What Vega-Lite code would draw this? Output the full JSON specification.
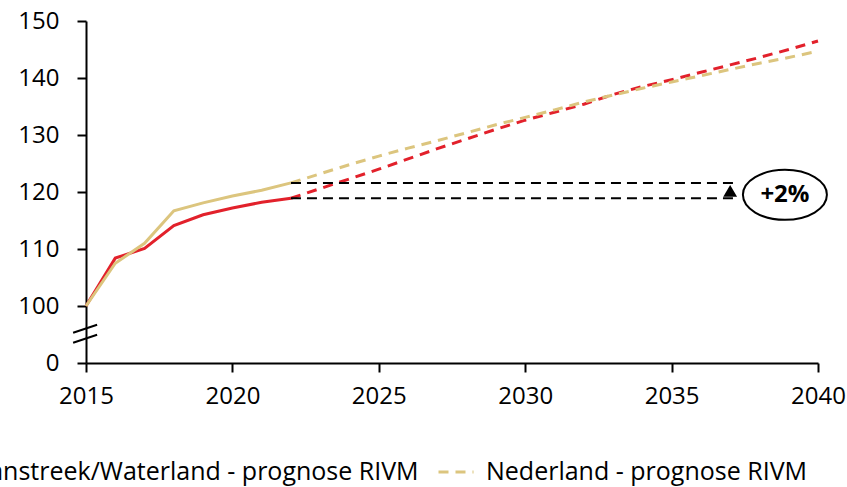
{
  "$schema": "https://vega.github.io/schema/vega-lite/v6.json",
  "width": 732,
  "height": 342,
  "autosize": {"type": "none"},
  "padding": {"left": 86, "top": 21, "right": 29, "bottom": 124},
  "background": "white",
  "config": {
    "view": {"stroke": null},
    "font": "Open Sans",
    "axis": {"labelFont": "Open Sans", "labelFontSize": 24, "labelColor": "#000000", "domainColor": "#000000", "tickColor": "#000000", "domainWidth": 2, "tickWidth": 2, "tickSize": 9, "grid": false, "title": null}
  },
  "datasets": {
    "reeks": [
      {"jaar": 2015, "index": 100, "reeks": "Zaanstreek/Waterland"},
      {"jaar": 2016, "index": 108.4, "reeks": "Zaanstreek/Waterland"},
      {"jaar": 2017, "index": 110.1, "reeks": "Zaanstreek/Waterland"},
      {"jaar": 2018, "index": 114.1, "reeks": "Zaanstreek/Waterland"},
      {"jaar": 2019, "index": 116.0, "reeks": "Zaanstreek/Waterland"},
      {"jaar": 2020, "index": 117.2, "reeks": "Zaanstreek/Waterland"},
      {"jaar": 2021, "index": 118.2, "reeks": "Zaanstreek/Waterland"},
      {"jaar": 2022, "index": 118.9, "reeks": "Zaanstreek/Waterland"},
      {"jaar": 2015, "index": 100, "reeks": "Nederland"},
      {"jaar": 2016, "index": 107.5, "reeks": "Nederland"},
      {"jaar": 2017, "index": 111.0, "reeks": "Nederland"},
      {"jaar": 2018, "index": 116.7, "reeks": "Nederland"},
      {"jaar": 2019, "index": 118.1, "reeks": "Nederland"},
      {"jaar": 2020, "index": 119.3, "reeks": "Nederland"},
      {"jaar": 2021, "index": 120.3, "reeks": "Nederland"},
      {"jaar": 2022, "index": 121.6, "reeks": "Nederland"},
      {"jaar": 2022, "index": 118.9, "reeks": "Zaanstreek/Waterland - prognose RIVM"},
      {"jaar": 2023, "index": 120.6, "reeks": "Zaanstreek/Waterland - prognose RIVM"},
      {"jaar": 2024, "index": 122.3, "reeks": "Zaanstreek/Waterland - prognose RIVM"},
      {"jaar": 2025, "index": 124.0, "reeks": "Zaanstreek/Waterland - prognose RIVM"},
      {"jaar": 2026, "index": 125.8, "reeks": "Zaanstreek/Waterland - prognose RIVM"},
      {"jaar": 2027, "index": 127.6, "reeks": "Zaanstreek/Waterland - prognose RIVM"},
      {"jaar": 2028, "index": 129.3, "reeks": "Zaanstreek/Waterland - prognose RIVM"},
      {"jaar": 2029, "index": 131.0, "reeks": "Zaanstreek/Waterland - prognose RIVM"},
      {"jaar": 2030, "index": 132.6, "reeks": "Zaanstreek/Waterland - prognose RIVM"},
      {"jaar": 2031, "index": 134.0, "reeks": "Zaanstreek/Waterland - prognose RIVM"},
      {"jaar": 2032, "index": 135.4, "reeks": "Zaanstreek/Waterland - prognose RIVM"},
      {"jaar": 2033, "index": 137.1, "reeks": "Zaanstreek/Waterland - prognose RIVM"},
      {"jaar": 2034, "index": 138.5, "reeks": "Zaanstreek/Waterland - prognose RIVM"},
      {"jaar": 2035, "index": 139.7, "reeks": "Zaanstreek/Waterland - prognose RIVM"},
      {"jaar": 2036, "index": 141.0, "reeks": "Zaanstreek/Waterland - prognose RIVM"},
      {"jaar": 2037, "index": 142.3, "reeks": "Zaanstreek/Waterland - prognose RIVM"},
      {"jaar": 2038, "index": 143.6, "reeks": "Zaanstreek/Waterland - prognose RIVM"},
      {"jaar": 2039, "index": 145.0, "reeks": "Zaanstreek/Waterland - prognose RIVM"},
      {"jaar": 2040, "index": 146.5, "reeks": "Zaanstreek/Waterland - prognose RIVM"},
      {"jaar": 2022, "index": 121.6, "reeks": "Nederland - prognose RIVM"},
      {"jaar": 2023, "index": 123.2, "reeks": "Nederland - prognose RIVM"},
      {"jaar": 2024, "index": 124.8, "reeks": "Nederland - prognose RIVM"},
      {"jaar": 2025, "index": 126.3, "reeks": "Nederland - prognose RIVM"},
      {"jaar": 2026, "index": 127.7, "reeks": "Nederland - prognose RIVM"},
      {"jaar": 2027, "index": 129.0, "reeks": "Nederland - prognose RIVM"},
      {"jaar": 2028, "index": 130.4, "reeks": "Nederland - prognose RIVM"},
      {"jaar": 2029, "index": 131.8, "reeks": "Nederland - prognose RIVM"},
      {"jaar": 2030, "index": 133.1, "reeks": "Nederland - prognose RIVM"},
      {"jaar": 2031, "index": 134.4, "reeks": "Nederland - prognose RIVM"},
      {"jaar": 2032, "index": 135.8, "reeks": "Nederland - prognose RIVM"},
      {"jaar": 2033, "index": 137.0, "reeks": "Nederland - prognose RIVM"},
      {"jaar": 2034, "index": 138.2, "reeks": "Nederland - prognose RIVM"},
      {"jaar": 2035, "index": 139.3, "reeks": "Nederland - prognose RIVM"},
      {"jaar": 2036, "index": 140.4, "reeks": "Nederland - prognose RIVM"},
      {"jaar": 2037, "index": 141.5, "reeks": "Nederland - prognose RIVM"},
      {"jaar": 2038, "index": 142.6, "reeks": "Nederland - prognose RIVM"},
      {"jaar": 2039, "index": 143.6, "reeks": "Nederland - prognose RIVM"},
      {"jaar": 2040, "index": 144.7, "reeks": "Nederland - prognose RIVM"}
    ],
    "niveaus": [
      {"van": 2022, "tot": 2037.25, "niveau": 121.6},
      {"van": 2022, "tot": 2037.25, "niveau": 118.9}
    ],
    "breuk": [
      {"x1": 2014.56, "x2": 2015.38, "y1": 95.3, "y2": 96.7},
      {"x1": 2014.56, "x2": 2015.38, "y1": 93.55, "y2": 94.95}
    ],
    "pijl": [{"jaar": 2037.0, "index": 120.2}],
    "label": [{"jaar": 2038.87, "index": 119.5, "tekst": "+2%"}]
  },
  "layer": [
    {
      "data": {"name": "breuk"},
      "mark": {"type": "rule", "color": "#000000", "strokeWidth": 2},
      "encoding": {
        "x": {"field": "x1", "type": "quantitative", "scale": {"domain": [2015, 2040], "nice": false}, "axis": {"values": [2015, 2020, 2025, 2030, 2035, 2040], "format": "d", "labelPadding": 12, "labelFlush": false}},
        "x2": {"field": "x2"},
        "y": {"field": "y1", "type": "quantitative", "scale": {"domain": [90, 150], "nice": false, "zero": false}, "axis": {"values": [90, 100, 110, 120, 130, 140, 150], "labelExpr": "datum.value == 90 ? '0' : datum.label", "labelPadding": 18}},
        "y2": {"field": "y2"}
      }
    },
    {
      "data": {"name": "reeks"},
      "transform": [{"filter": "datum.reeks == 'Zaanstreek/Waterland'"}],
      "mark": {"type": "line", "color": "#E2212B", "strokeWidth": 3},
      "encoding": {
        "x": {"field": "jaar", "type": "quantitative"},
        "y": {"field": "index", "type": "quantitative"}
      }
    },
    {
      "data": {"name": "reeks"},
      "transform": [{"filter": "datum.reeks == 'Nederland'"}],
      "mark": {"type": "line", "color": "#DCC57E", "strokeWidth": 3},
      "encoding": {
        "x": {"field": "jaar", "type": "quantitative"},
        "y": {"field": "index", "type": "quantitative"}
      }
    },
    {
      "data": {"name": "reeks"},
      "transform": [{"filter": "indexof(datum.reeks, 'prognose') >= 0"}],
      "mark": {"type": "line", "strokeWidth": 3},
      "encoding": {
        "x": {"field": "jaar", "type": "quantitative"},
        "y": {"field": "index", "type": "quantitative"},
        "color": {"field": "reeks", "type": "nominal", "scale": {"domain": ["Zaanstreek/Waterland - prognose RIVM", "Nederland - prognose RIVM"], "range": ["#E2212B", "#DCC57E"]},
          "legend": {"orient": "none", "direction": "horizontal", "legendX": -174, "legendY": 432, "title": null, "labelFont": "Open Sans", "labelFontSize": 25, "labelColor": "#000000", "symbolType": "stroke", "symbolSize": 1225, "symbolStrokeWidth": 3, "labelOffset": 11, "columnPadding": 13, "labelLimit": 0}},
        "strokeDash": {"field": "reeks", "type": "nominal", "scale": {"domain": ["Zaanstreek/Waterland - prognose RIVM", "Nederland - prognose RIVM"], "range": [[10, 7], [10, 7]]}}
      }
    },
    {
      "data": {"name": "niveaus"},
      "mark": {"type": "rule", "color": "#000000", "strokeWidth": 2, "strokeDash": [10, 6]},
      "encoding": {
        "x": {"field": "van", "type": "quantitative"},
        "x2": {"field": "tot"},
        "y": {"field": "niveau", "type": "quantitative"}
      }
    },
    {
      "data": {"name": "pijl"},
      "mark": {"type": "point", "shape": "triangle-up", "filled": true, "color": "#000000", "size": 190, "opacity": 1},
      "encoding": {
        "x": {"field": "jaar", "type": "quantitative"},
        "y": {"field": "index", "type": "quantitative"}
      }
    },
    {
      "data": {"name": "label"},
      "mark": {"type": "point", "shape": "M-1,0A1,0.595,0,1,1,1,0A1,0.595,0,1,1,-1,0Z", "filled": false, "stroke": "#000000", "strokeWidth": 2, "size": 7056, "opacity": 1},
      "encoding": {
        "x": {"field": "jaar", "type": "quantitative"},
        "y": {"field": "index", "type": "quantitative"}
      }
    },
    {
      "data": {"name": "label"},
      "mark": {"type": "text", "font": "Open Sans", "fontSize": 24, "fontWeight": "bold", "color": "#000000", "align": "center", "baseline": "middle"},
      "encoding": {
        "x": {"field": "jaar", "type": "quantitative"},
        "y": {"field": "index", "type": "quantitative"},
        "text": {"field": "tekst"}
      }
    }
  ]
}
